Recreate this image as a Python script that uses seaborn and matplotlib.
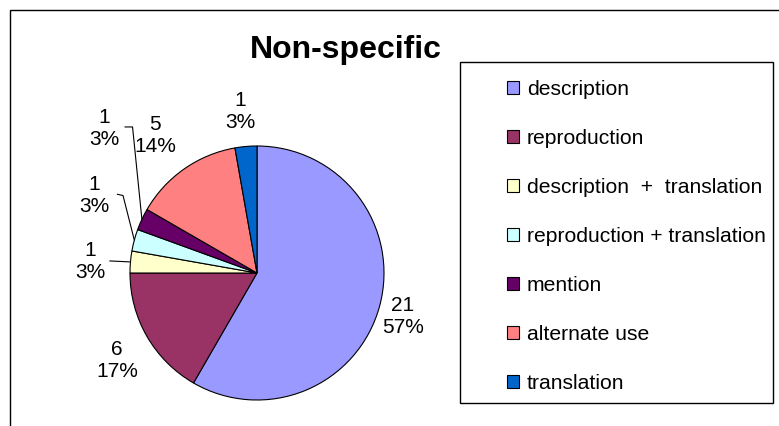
import numpy as np
import matplotlib
matplotlib.use('Agg')
import matplotlib.pyplot as plt
import seaborn as sns
from matplotlib.patches import Rectangle

# data
categories = ['description', 'reproduction', 'description  +  translation',
              'reproduction + translation', 'mention', 'alternate use', 'translation']
counts = [21, 6, 1, 1, 1, 5, 1]
pct_labels = ['57%', '17%', '3%', '3%', '3%', '14%', '3%']
colors = ['#9999FF', '#993366', '#FFFFCC', '#CCFFFF', '#660066', '#FF8080', '#0066CC']

sns.set_theme(style='white')
plt.rcParams['font.family'] = ['Liberation Sans', 'DejaVu Sans']
plt.rcParams['text.color'] = 'black'

W, H = 779, 426
fig = plt.figure(figsize=(W / 100, H / 100), dpi=100)
fig.patch.set_facecolor('white')


def fx(px):
    return px / W


def fy(py):
    return 1 - py / H


# chart area border (right / bottom run off the image)
fig.patches.append(Rectangle((fx(10), fy(520)), 1.0, fy(10) - fy(520),
                             transform=fig.transFigure, fill=False,
                             edgecolor='black', linewidth=1.0))

# pie
cx, cy, R = 257, 273, 127
ax = fig.add_axes([fx(cx - R), fy(cy + R), 2 * R / W, 2 * R / H])
wedges, _ = ax.pie(counts, colors=colors, startangle=90, counterclock=False,
                   radius=1, wedgeprops=dict(edgecolor='black', linewidth=0.8))
ax.set_xlim(-1, 1)
ax.set_ylim(-1, 1)
ax.axis('off')

# data label placement (Excel moved the small ones out with leader lines)
label_xy = [(1.15, -0.34), (-1.10, -0.69), (-1.31, 0.09), (-1.28, 0.61),
            (-1.20, 1.14), (-0.80, 1.08), (-0.13, 1.27)]
leaders = {2: [(-1.16, 0.095)],
           3: [(-1.10, 0.62), (-1.055, 0.61)],
           4: [(-1.04, 1.15), (-0.98, 1.15)]}

for i, w in enumerate(wedges):
    x, y = label_xy[i]
    ax.text(x, y, f"{counts[i]}\n{pct_labels[i]}", ha='center', va='center',
            fontsize=15, linespacing=1.22, color='black')
    if i in leaders:
        mid = np.deg2rad((w.theta1 + w.theta2) / 2)
        pts = leaders[i] + [(np.cos(mid), np.sin(mid))]
        xs, ys = zip(*pts)
        ax.plot(xs, ys, color='black', linewidth=0.8, clip_on=False)

# title
fig.text(fx(346), fy(58), 'Non-specific', ha='center', va='baseline',
         fontsize=23, fontweight='bold', color='black')

# legend frame + legend
fig.patches.append(Rectangle((fx(460), fy(403)), fx(773) - fx(460), fy(62) - fy(403),
                             transform=fig.transFigure, fill=False,
                             edgecolor='black', linewidth=1.0))
fig.legend(wedges, categories, loc='upper left',
           bbox_to_anchor=(fx(507), fy(80)), bbox_transform=fig.transFigure,
           frameon=False, fontsize=15.2, borderpad=0, borderaxespad=0,
           handlelength=0.55, handleheight=0.55, handletextpad=0.38,
           labelspacing=1.42, labelcolor='black')

fig.savefig('out.png', dpi=100)
plt.close(fig)
